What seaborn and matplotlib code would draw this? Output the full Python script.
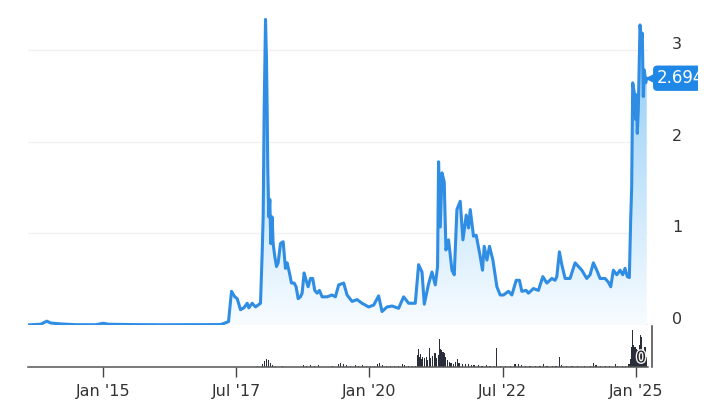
import numpy as np
import pandas as pd
import matplotlib
matplotlib.use("Agg")
import matplotlib.pyplot as plt
import matplotlib.dates as mdates
import matplotlib.patheffects as pe
from matplotlib.transforms import ScaledTranslation, Bbox, TransformedBbox
import seaborn as sns

# ---------------- data ----------------
price_year = [
    2013.608, 2013.833, 2013.945, 2014.020, 2014.207, 2014.488, 2014.863, 2015.000,
    2015.107, 2015.519, 2016.081, 2016.831, 2017.205, 2017.267, 2017.355, 2017.411,
    2017.473, 2017.518, 2017.580, 2017.642, 2017.706, 2017.736, 2017.799, 2017.861,
    2017.955, 2017.986, 2018.005, 2018.024, 2018.049, 2018.067, 2018.080, 2018.092,
    2018.111, 2018.130, 2018.148, 2018.173, 2018.192, 2018.223, 2018.255, 2018.286,
    2018.330, 2018.380, 2018.423, 2018.455, 2018.498, 2018.536, 2018.586, 2018.623,
    2018.661, 2018.704, 2018.736, 2018.773, 2018.811, 2018.848, 2018.892, 2018.935,
    2018.973, 2019.017, 2019.060, 2019.110, 2019.173, 2019.205, 2019.298, 2019.360,
    2019.422, 2019.516, 2019.579, 2019.673, 2019.767, 2019.860, 2019.984, 2020.078,
    2020.171, 2020.235, 2020.329, 2020.423, 2020.546, 2020.640, 2020.734, 2020.859,
    2020.921, 2020.985, 2021.028, 2021.108, 2021.172, 2021.234, 2021.277, 2021.296,
    2021.327, 2021.360, 2021.402, 2021.434, 2021.483, 2021.547, 2021.590, 2021.640,
    2021.702, 2021.753, 2021.815, 2021.858, 2021.890, 2021.951, 2022.002, 2022.077,
    2022.120, 2022.152, 2022.203, 2022.251, 2022.315, 2022.390, 2022.452, 2022.514,
    2022.607, 2022.671, 2022.752, 2022.813, 2022.858, 2022.939, 2022.982, 2023.076,
    2023.169, 2023.252, 2023.327, 2023.421, 2023.482, 2023.514, 2023.563, 2023.608,
    2023.670, 2023.763, 2023.857, 2023.919, 2023.983, 2024.076, 2024.138, 2024.200,
    2024.264, 2024.326, 2024.419, 2024.481, 2024.526, 2024.575, 2024.639, 2024.700,
    2024.751, 2024.794, 2024.837, 2024.875, 2024.900, 2024.919, 2024.938, 2024.968,
    2024.994, 2025.013, 2025.024, 2025.043, 2025.075, 2025.099, 2025.118, 2025.137,
    2025.155, 2025.182, 2025.201,
]
price = [
    0.005, 0.012, 0.045, 0.025, 0.015, 0.007, 0.006, 0.022,
    0.012, 0.008, 0.006, 0.007, 0.008, 0.02, 0.04, 0.37,
    0.31, 0.29, 0.17, 0.19, 0.24, 0.19, 0.24, 0.20,
    0.24, 0.78, 1.18, 2.35, 3.33, 2.90, 2.35, 1.69,
    1.18, 1.37, 0.89, 1.18, 0.89, 0.75, 0.64, 0.68,
    0.89, 0.91, 0.62, 0.68, 0.57, 0.46, 0.46, 0.42,
    0.29, 0.31, 0.35, 0.57, 0.49, 0.42, 0.51, 0.51,
    0.38, 0.35, 0.38, 0.31, 0.31, 0.31, 0.33, 0.31,
    0.44, 0.46, 0.33, 0.26, 0.28, 0.24, 0.20, 0.22,
    0.32, 0.15, 0.20, 0.21, 0.185, 0.31, 0.24, 0.24,
    0.66, 0.58, 0.23, 0.45, 0.58, 0.44, 0.64, 1.78,
    1.07, 1.66, 1.56, 0.82, 0.93, 0.60, 0.55, 1.26,
    1.35, 0.93, 1.20, 1.06, 1.26, 0.97, 0.98, 0.75,
    0.60, 0.86, 0.71, 0.86, 0.71, 0.42, 0.33, 0.33,
    0.37, 0.33, 0.49, 0.49, 0.37, 0.38, 0.35, 0.40,
    0.38, 0.53, 0.46, 0.51, 0.49, 0.53, 0.80, 0.66,
    0.51, 0.51, 0.68, 0.64, 0.60, 0.51, 0.55, 0.68,
    0.60, 0.51, 0.51, 0.47, 0.42, 0.60, 0.55, 0.60,
    0.55, 0.62, 0.53, 0.52, 1.15, 1.51, 2.64, 2.53,
    2.24, 2.51, 2.09, 2.35, 3.27, 3.11, 3.18, 2.49,
    2.78, 2.64, 2.69,
]

vol_year = [
    2017.71, 2017.80, 2017.90, 2017.99, 2018.03, 2018.07, 2018.10, 2018.14, 2018.18, 2018.24,
    2018.37, 2018.52, 2018.67, 2018.76, 2018.82, 2018.89, 2018.97, 2019.04, 2019.17, 2019.30,
    2019.42, 2019.45, 2019.51, 2019.57, 2019.64, 2019.74, 2019.79, 2019.87, 2019.94, 2020.02,
    2020.09, 2020.15, 2020.18, 2020.24, 2020.32, 2020.39, 2020.47, 2020.54, 2020.62, 2020.65,
    2020.73, 2020.80, 2020.86, 2020.90, 2020.92, 2020.93, 2020.95, 2020.97, 2020.99, 2021.03,
    2021.07, 2021.08, 2021.12, 2021.14, 2021.18, 2021.22, 2021.23, 2021.25, 2021.29, 2021.31,
    2021.33, 2021.35, 2021.37, 2021.38, 2021.40, 2021.42, 2021.46, 2021.50, 2021.53, 2021.57,
    2021.61, 2021.65, 2021.68, 2021.74, 2021.80, 2021.85, 2021.91, 2021.96, 2022.04, 2022.11,
    2022.19, 2022.26, 2022.34, 2022.39, 2022.45, 2022.55, 2022.64, 2022.73, 2022.79, 2022.85,
    2022.92, 2023.01, 2023.11, 2023.20, 2023.26, 2023.33, 2023.43, 2023.50, 2023.56, 2023.60,
    2023.69, 2023.80, 2023.91, 2024.03, 2024.14, 2024.20, 2024.25, 2024.33, 2024.42, 2024.51,
    2024.61, 2024.66, 2024.74, 2024.81, 2024.87, 2024.89, 2024.91, 2024.92, 2024.94, 2024.96,
    2024.98, 2025.00, 2025.02, 2025.04, 2025.06, 2025.08, 2025.09, 2025.11, 2025.13, 2025.15,
    2025.17, 2025.19,
]
volume = [
    0.5, 0.5, 1, 3, 6, 8.5, 7, 4, 2, 1,
    1, 0.5, 0.5, 2, 1, 2.5, 1.5, 2, 0.5, 1,
    3, 4.5, 3, 2, 1, 2, 1.5, 2, 1, 1.5,
    1, 3, 4, 2, 1, 1.5, 1, 1, 3, 2.5,
    1, 1, 1.5, 12, 18, 10, 13, 8, 10, 9,
    10, 7, 19, 9, 11, 8, 14, 9, 12, 28,
    18, 17, 12, 15, 14, 10, 7, 5, 4, 3,
    5, 8, 4, 3, 3.5, 3, 2.5, 2, 2, 1.5,
    2, 1.5, 1, 19, 1, 1, 1, 3, 3.5, 2,
    1, 1, 1, 1, 3, 1, 1, 1, 10, 2,
    1, 1, 1.5, 1, 1.5, 4, 2, 1.5, 1, 1.5,
    3, 1.5, 1, 1.5, 3, 8, 10, 20, 37, 22,
    20, 18, 17, 14, 22, 32, 18, 30, 15, 12,
    20, 10,
]

price_ticks = [0, 1, 2, 3]
tick_dates = ["2015-01-01", "2017-07-01", "2020-01-01", "2022-07-01", "2025-01-01"]
tick_labels = ["Jan '15", "Jul '17", "Jan '20", "Jul '22", "Jan '25"]
last_label = "2.694"
x_range_years = [2013.593, 2025.225]

LINE = "#2f8de4"
BOX = "#1f87e5"


def yr2dt(y):
    return pd.Timestamp("2015-01-01") + pd.to_timedelta((np.asarray(y, float) - 2015.0) * 365.25, unit="D")


df = pd.DataFrame({"date": yr2dt(price_year), "price": price})
dv = pd.DataFrame({"date": yr2dt(vol_year), "volume": volume})

sns.set_theme(style="white")
plt.rcParams["font.family"] = ["DejaVu Sans"]

W, H = 721, 407
fig = plt.figure(figsize=(W / 100, H / 100), dpi=100)
ax = fig.add_axes([28 / W, (H - 325.3) / H, 620 / W, (325.3 - 13) / H])
axv = fig.add_axes([28 / W, (H - 367) / H, 620 / W, 41 / H])

ymax = 3.4
xmin, xmax = mdates.date2num(yr2dt(x_range_years))

# price line
sns.lineplot(data=df, x="date", y="price", ax=ax, color=LINE, lw=2.2, zorder=3)

# gradient fill under the line
fill = ax.fill_between(df["date"], df["price"], 0, color="none", lw=0)
top = np.array([0x86, 0xc8, 0xf6]) / 255
bot = np.array([0xf8, 0xfc, 0xff]) / 255
t = np.linspace(0, 1, 256)[:, None]
grad = (bot[None, :] * (1 - t) + top[None, :] * t)[:, None, :]
im = ax.imshow(grad, extent=[xmin, xmax, 0, ymax], origin="lower", aspect="auto",
               zorder=2, interpolation="bilinear")
im.set_clip_path(fill.get_paths()[0], transform=ax.transData)

ax.set_xlim(xmin, xmax)
ax.set_ylim(0, ymax)
ax.set_yticks(price_ticks)
ax.yaxis.tick_right()
ax.set_axisbelow(True)
ax.grid(axis="y", color="#f1f1f1", lw=1.0, zorder=0)
ax.grid(axis="x", visible=False)
ax.axhline(0, color="#e4e4e4", lw=1.2, zorder=1)
for s in ax.spines.values():
    s.set_visible(False)
ax.tick_params(axis="x", bottom=False, labelbottom=False, length=0)
ax.tick_params(axis="y", length=0, pad=21, labelsize=11.5, labelcolor="#333333")
for lab in ax.get_yticklabels():
    lab.set_horizontalalignment("center")
ax.set_xlabel("")
ax.set_ylabel("")
off = ScaledTranslation(0, 7 / 100, fig.dpi_scale_trans)
for lab in ax.get_yticklabels():
    lab.set_transform(lab.get_transform() + off)

# last-value tag (clipped like the chart container)
clip = TransformedBbox(Bbox([[0, 0], [698 / W, 1]]), fig.transFigure)
last_d = df["date"].iloc[-1]
last_v = df["price"].iloc[-1]
tag = ax.annotate(last_label, xy=(last_d, last_v), xytext=(10, 0), textcoords="offset pixels",
                  ha="left", va="center", color="white", fontsize=12,
                  bbox=dict(boxstyle="round,pad=0.22,rounding_size=0.25", fc=BOX, ec="none"),
                  annotation_clip=False, zorder=6)
tag.set_clip_on(True)
tag.set_clip_box(clip)
ax.plot([last_d], [last_v], marker="<", ms=8, color=BOX, clip_on=False, zorder=5,
        transform=ax.transData + ScaledTranslation(5 / 100, 0, fig.dpi_scale_trans))

# volume panel
axv.bar(dv["date"], dv["volume"], width=8, color="#2a2e3a", lw=0)
axv.set_xlim(xmin, xmax)
axv.set_ylim(0, 41)
axv.set_yticks([])
axv.set_facecolor("none")
for k in ["top", "left"]:
    axv.spines[k].set_visible(False)
axv.spines["bottom"].set_color("#555555")
axv.spines["bottom"].set_linewidth(1.1)
axv.spines["right"].set_color("#444444")
axv.spines["right"].set_linewidth(1.1)
axv.spines["right"].set_position(("outward", 3))
axv.set_xticks(pd.to_datetime(tick_dates))
axv.set_xticklabels(tick_labels)
axv.tick_params(axis="x", bottom=True, direction="out", length=7.5, width=1.0,
                color="#444444", pad=5, labelsize=11.5, labelcolor="#333333")
axv.set_xlabel("")
axv.set_ylabel("")
axv.text(0.997, 0.04, "0", transform=axv.transAxes, ha="right", va="bottom",
         fontsize=11.5, color="#222222", zorder=5,
         path_effects=[pe.withStroke(linewidth=2, foreground="#f4f4f4")])

fig.savefig("out.png", dpi=100, facecolor="white")
